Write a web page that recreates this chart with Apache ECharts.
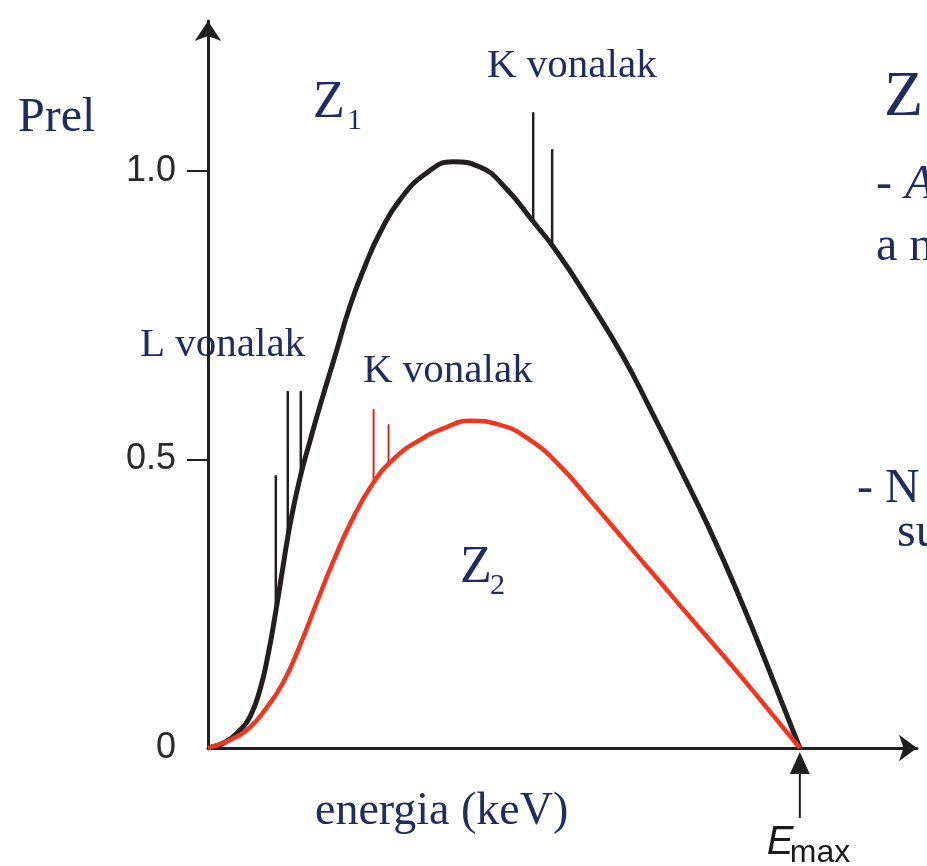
<!DOCTYPE html>
<html>
<head>
<meta charset="utf-8">
<title>Prel – energia</title>
<script src="https://cdn.jsdelivr.net/npm/echarts@6/dist/echarts.min.js"></script>
<style>
  html, body { margin: 0; padding: 0; background: #ffffff; }
  #chart { width: 927px; height: 866px; }
</style>
</head>
<body>
<div id="chart"></div>
<script>
// Bremsstrahlung spectra for two anode materials (relative power vs. photon energy).
// Energy is expressed in per cent of E_max.
const EMAX = 100;

// Z1 continuous spectrum: [energy, Prel]
const z1Energy = [0, 2.87, 5.41, 7.09, 8.78, 10.14, 11.49, 12.67, 13.85, 15.54, 17.23, 18.92, 21.45, 23.99,
  26.52, 29.05, 32.43, 36.99, 41.39, 45.95, 50.17, 54.90, 58.95, 64.53, 70.10, 74.66, 79.73, 84.80, 89.86, 94.93, 100];
const z1Prel = [0, 0.010, 0.031, 0.054, 0.101, 0.161, 0.239, 0.314, 0.387, 0.468, 0.532, 0.593, 0.679, 0.766,
  0.835, 0.893, 0.950, 0.997, 1.016, 1.007, 0.972, 0.913, 0.860, 0.773, 0.679, 0.589, 0.485, 0.378, 0.260, 0.132, 0];

// Z2 continuous spectrum: [energy, Prel]
const z2Energy = [0, 3.72, 7.09, 9.97, 12.67, 15.54, 18.41, 21.11, 23.99, 27.87, 31.59, 35.81, 40.03, 44.26,
  49.32, 54.39, 59.46, 64.53, 70.44, 76.35, 82.26, 88.18, 94.09, 100];
const z2Prel = [0, 0.014, 0.036, 0.071, 0.113, 0.178, 0.253, 0.322, 0.388, 0.459, 0.503, 0.534, 0.555, 0.567,
  0.560, 0.534, 0.489, 0.430, 0.359, 0.288, 0.217, 0.147, 0.074, 0];

// Characteristic lines: energy, Prel at the continuum, Prel at the peak
const z1LinesEnergy = [11.46, 13.48, 15.68, 54.95, 58.15];
const z1LinesBase   = [0.236, 0.365, 0.472, 0.910, 0.868];
const z1LinesTop    = [0.471, 0.617, 0.617, 1.100, 1.036];

const z2LinesEnergy = [27.98, 30.51];
const z2LinesBase   = [0.459, 0.492];
const z2LinesTop    = [0.586, 0.560];

// Labels shown on the vertical axis
const yTickValues = [0, 0.5, 1.0];
const yTickMarks  = [0.5, 1.0];

const zip2 = (a, b) => a.map((v, i) => [v, b[i]]);
const zip3 = (a, b, c) => a.map((v, i) => [v, b[i], c[i]]);

const INK = '#1f1f1f';
const NAVY = '#1f2b63';
const SERIF = '"Liberation Serif", "Times New Roman", serif';
const SANS = '"Liberation Sans", Arial, sans-serif';
const SANS_N = '"Liberation Sans Narrow", "Liberation Sans", Arial, sans-serif';

function spikeRenderer(color, width) {
  return function (params, api) {
    const p0 = api.coord([api.value(0), api.value(1)]);
    const p1 = api.coord([api.value(0), api.value(2)]);
    return {
      type: 'line',
      shape: { x1: p0[0], y1: p0[1], x2: p1[0], y2: p1[1] },
      style: { stroke: color, lineWidth: width, lineCap: 'round' }
    };
  };
}

const chart = echarts.init(document.getElementById('chart'), null, { renderer: 'canvas' });

chart.setOption({
  backgroundColor: '#ffffff',
  animation: false,
  grid: { left: 208, right: 10, top: 21, bottom: 118, containLabel: false },
  xAxis: {
    type: 'value', min: 0, max: 119.8,
    axisLine: { show: true, lineStyle: { color: INK, width: 3 }, symbol: ['none', 'arrow'], symbolSize: [20, 18] },
    axisTick: { show: false }, axisLabel: { show: false }, splitLine: { show: false }
  },
  yAxis: {
    type: 'value', min: 0, max: 1.26, interval: 0.5,
    axisLine: { show: true, lineStyle: { color: INK, width: 3 }, symbol: ['none', 'arrow'], symbolSize: [20, 20] },
    axisTick: { show: true, inside: false, length: 21, customValues: yTickMarks, lineStyle: { color: INK, width: 2 } },
    axisLabel: {
      show: true, customValues: yTickValues, margin: 32,
      color: '#2a2a2a', fontFamily: SANS_N, fontSize: 36,
      formatter: v => (v === 0 ? '0' : v.toFixed(1))
    },
    splitLine: { show: false }
  },
  series: [
    {
      name: 'Z1', type: 'line', data: zip2(z1Energy, z1Prel),
      showSymbol: false, smooth: 0.5,
      lineStyle: { color: '#231f20', width: 5 }, z: 3
    },
    {
      name: 'Z1 vonalak', type: 'custom', data: zip3(z1LinesEnergy, z1LinesBase, z1LinesTop),
      encode: { x: 0, y: [1, 2] }, renderItem: spikeRenderer('#231f20', 2.5), z: 3
    },
    {
      name: 'Z2', type: 'line', data: zip2(z2Energy, z2Prel),
      showSymbol: false, smooth: 0.5,
      lineStyle: { color: '#f2351c', width: 4.5 }, z: 4
    },
    {
      name: 'Z2 vonalak', type: 'custom', data: zip3(z2LinesEnergy, z2LinesBase, z2LinesTop),
      encode: { x: 0, y: [1, 2] }, renderItem: spikeRenderer('#c8302a', 2), z: 4
    }
  ]
});

// Annotations: arrow marking E_max under the energy axis, plus captions
const eAt = chart.convertToPixel({ gridIndex: 0 }, [EMAX, 0]);
const ex = eAt[0], ey = eAt[1];

// place a text by its baseline (middle of the em box sits ~0.34 em above it)
function label(x, baseline, text, size, style) {
  const s = Object.assign({ text: text, fill: NAVY, fontFamily: SERIF, fontSize: size }, style || {});
  s.verticalAlign = 'middle';
  return { type: 'text', x: x, y: baseline - 0.34 * size, silent: true, style: s };
}

chart.setOption({
  graphic: [
    // E_max pointer
    { type: 'line', silent: true, shape: { x1: ex, y1: ey + 70, x2: ex, y2: ey + 22 }, style: { stroke: INK, lineWidth: 2 } },
    { type: 'polygon', silent: true, shape: { points: [[ex, ey + 4], [ex - 10, ey + 26], [ex + 10, ey + 26]] }, style: { fill: INK } },
    label(ex - 33, 856, 'E', 40, { fill: '#1a1a1a', fontFamily: SANS, fontStyle: 'italic' }),
    label(ex - 10, 864, 'max', 32, { fill: '#1a1a1a', fontFamily: SANS_N }),

    label(18, 135, 'Prel', 48),
    label(313, 121, 'Z', 52),
    label(347, 131, '1', 30),
    label(487, 80, 'K vonalak', 41),
    label(140, 359, 'L vonalak', 41),
    label(363, 385, 'K vonalak', 41),
    label(460, 586, 'Z', 52),
    label(490, 596, '2', 30),
    label(315, 828, 'energia (keV)', 46),

    // side notes running off the right edge
    label(884, 120, 'Z', 64),
    label(876, 202, '- ', 48),
    label(905, 202, 'A', 48, { fontStyle: 'italic' }),
    label(876, 264, 'a n', 48),
    label(857, 506, '- N', 48),
    label(897, 550, 'su', 48)
  ]
});
</script>
</body>
</html>
